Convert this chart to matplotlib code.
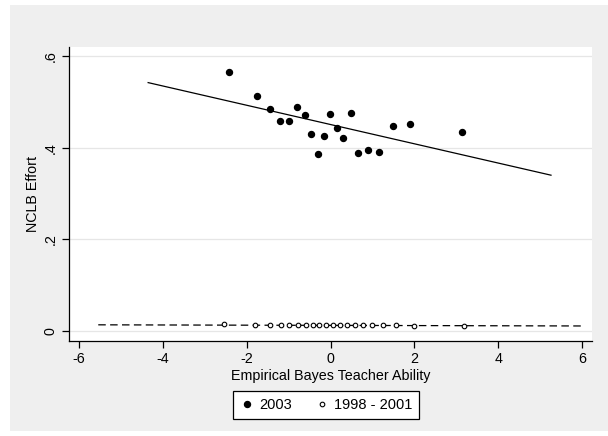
import numpy as np
import matplotlib
matplotlib.use("Agg")
import matplotlib.pyplot as plt
from matplotlib.patches import Rectangle

plt.rcParams['font.family'] = ['Liberation Sans', 'DejaVu Sans']

# 2003 cohort (filled)
x_2003 = [-2.42, -1.75, -1.44, -1.20, -0.99, -0.79, -0.62, -0.47, -0.31, -0.16,
          -0.01, 0.155, 0.31, 0.49, 0.66, 0.89, 1.16, 1.50, 1.90, 3.13]
y_2003 = [0.566, 0.513, 0.484, 0.459, 0.459, 0.489, 0.471, 0.430, 0.386, 0.425,
          0.474, 0.444, 0.421, 0.475, 0.389, 0.396, 0.391, 0.447, 0.451, 0.434]
fit_x_2003 = [-4.35, 5.26]
fit_y_2003 = [0.542, 0.340]

# 1998 - 2001 (hollow)
x_old = [-2.53, -1.81, -1.44, -1.19, -0.98, -0.77, -0.58, -0.42, -0.27, -0.11,
         0.05, 0.23, 0.39, 0.58, 0.78, 0.99, 1.25, 1.56, 2.00, 3.18]
y_old = [0.0145, 0.0140, 0.0135, 0.0130, 0.0130, 0.0130, 0.0128, 0.0128, 0.0128, 0.0128,
         0.0130, 0.0128, 0.0126, 0.0126, 0.0124, 0.0124, 0.0122, 0.0122, 0.0120, 0.0120]
fit_x_old = [-5.54, 6.0]
fit_y_old = [0.0135, 0.011]

xticks = [-6, -4, -2, 0, 2, 4, 6]
yticks = [0, 0.2, 0.4, 0.6]
ytick_labels = ['0', '.2', '.4', '.6']

fig = plt.figure(figsize=(6.08, 4.36), dpi=100)
fig.patch.set_facecolor('white')
fig.patches.append(Rectangle((10 / 608, 5 / 436), 598 / 608, 426 / 436,
                             transform=fig.transFigure, facecolor='#efefef',
                             edgecolor='none', zorder=-5))

ax = fig.add_axes([69 / 608, 1 - 341 / 436, 523 / 608, 294 / 436])
ax.set_facecolor('white')

ax.plot(x_2003, y_2003, 'o', color='black', markersize=4.3, label='2003', zorder=3)
ax.plot(fit_x_2003, fit_y_2003, '-', color='black', linewidth=0.9, zorder=2)
ax.plot(x_old, y_old, 'o', color='black', markerfacecolor='white', markersize=3.3,
        markeredgewidth=0.8, label='1998 - 2001', zorder=3)
ax.plot(fit_x_old, fit_y_old, '--', color='black', linewidth=0.9, dashes=(6, 3.5), zorder=2)

ax.set_xlim(-6.238, 6.238)
ax.set_ylim(-0.0218, 0.6197)
ax.set_xticks(xticks)
ax.set_xticklabels([str(t) for t in xticks])
ax.set_yticks(yticks)
ax.set_yticklabels(ytick_labels, rotation=90, va='center')
ax.grid(axis='y', color='#e6e6e6', linewidth=0.9)
ax.set_axisbelow(True)

for s in ['top', 'right']:
    ax.spines[s].set_visible(False)
for s in ['left', 'bottom']:
    ax.spines[s].set_linewidth(0.9)
ax.tick_params(direction='out', length=5, width=0.9, labelsize=10.3, pad=3)

ax.set_xlabel('Empirical Bayes Teacher Ability', fontsize=10.3, labelpad=2)
ax.set_ylabel('NCLB Effort', fontsize=10.3, labelpad=3)

h, l = ax.get_legend_handles_labels()
leg = fig.legend(h, l, loc='center', bbox_to_anchor=(326 / 608, 1 - 405 / 436), ncol=2,
                 frameon=True, fancybox=False, fontsize=10.5, handletextpad=0.3,
                 columnspacing=1.6, handlelength=1.0, borderpad=0.45, framealpha=1)
leg.get_frame().set_edgecolor('black')
leg.get_frame().set_linewidth(0.9)

fig.savefig('out.png', dpi=100)
